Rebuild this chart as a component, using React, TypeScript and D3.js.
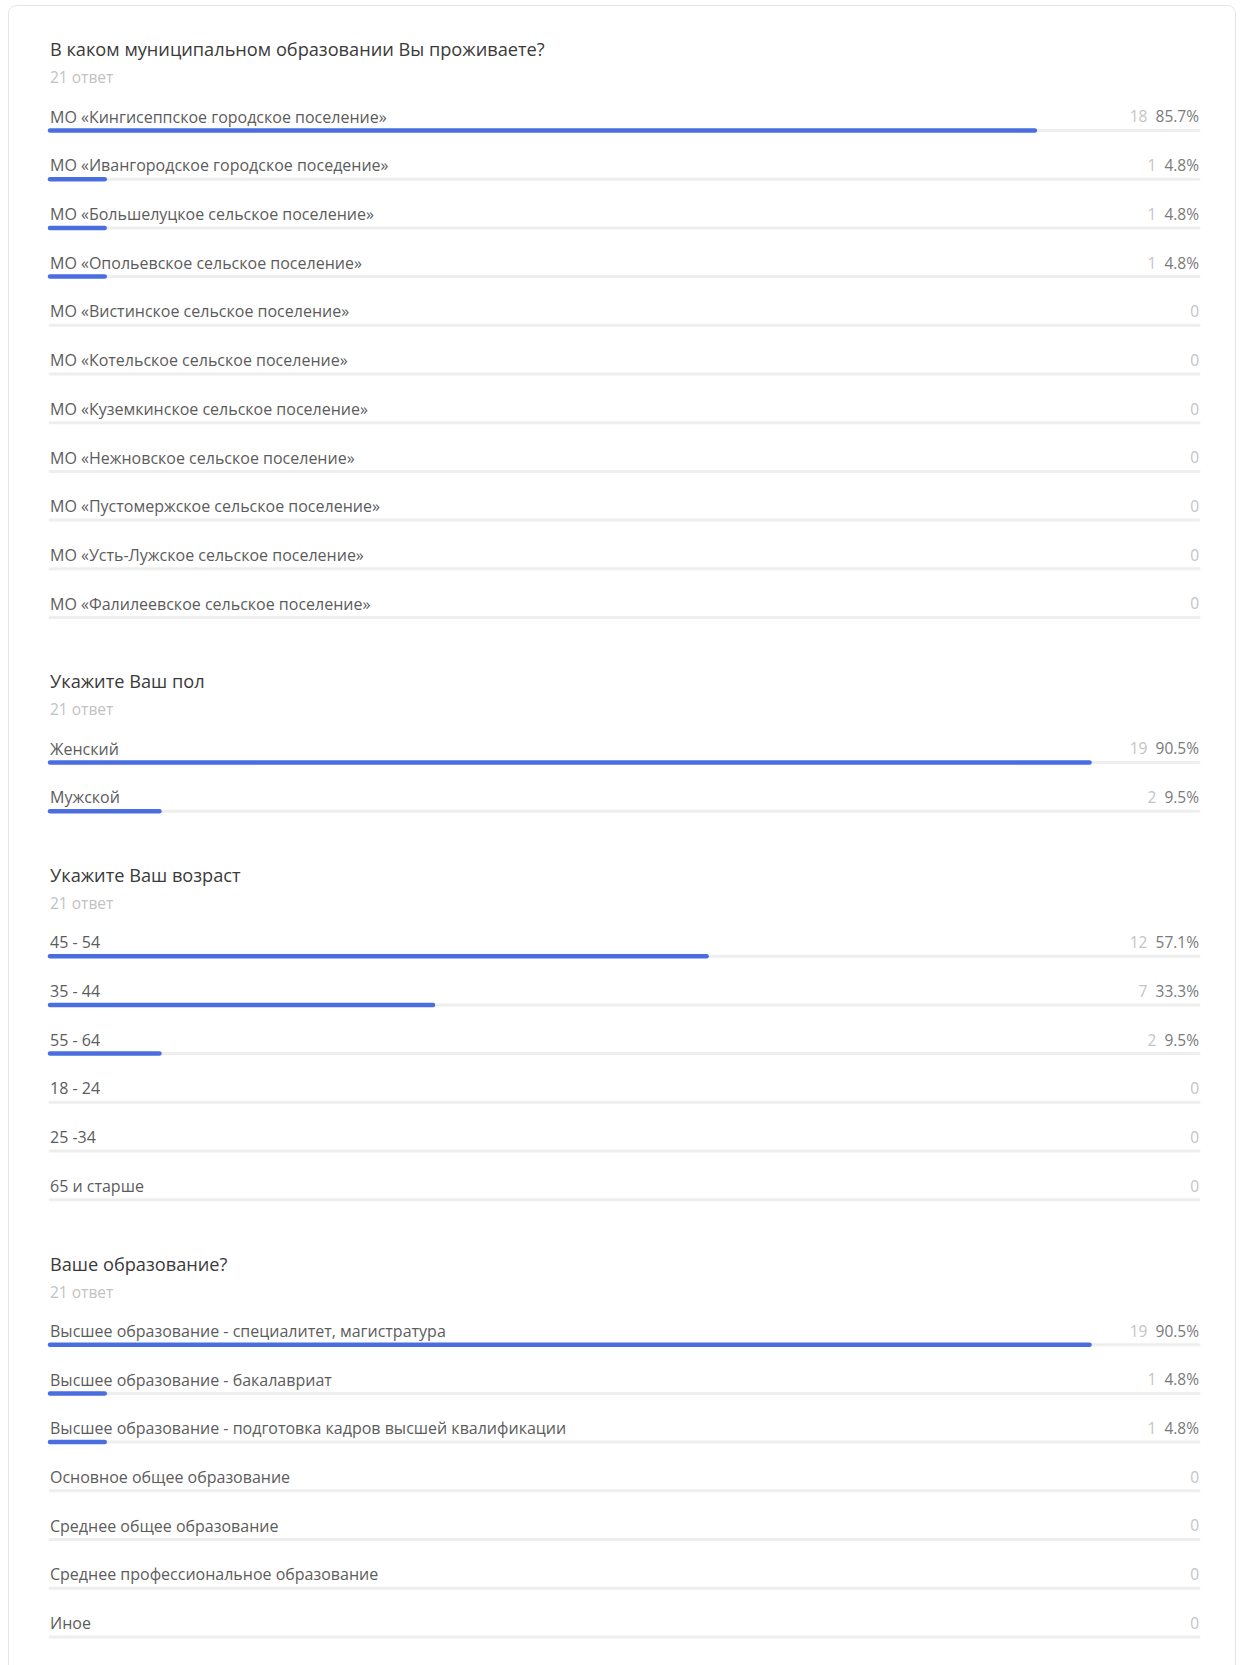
import React from "react";
import * as d3 from "d3";

const TOTAL = 21;

const sectionTitles = [
  "В каком муниципальном образовании Вы проживаете?",
  "Укажите Ваш пол",
  "Укажите Ваш возраст",
  "Ваше образование?",
];

const q1Labels = [
  "МО «Кингисеппское городское поселение»",
  "МО «Ивангородское городское поседение»",
  "МО «Большелуцкое сельское поселение»",
  "МО «Опольевское сельское поселение»",
  "МО «Вистинское сельское поселение»",
  "МО «Котельское сельское поселение»",
  "МО «Куземкинское сельское поселение»",
  "МО «Нежновское сельское поселение»",
  "МО «Пустомержское сельское поселение»",
  "МО «Усть-Лужское сельское поселение»",
  "МО «Фалилеевское сельское поселение»",
];
const q1Counts = [18, 1, 1, 1, 0, 0, 0, 0, 0, 0, 0];

const q2Labels = ["Женский", "Мужской"];
const q2Counts = [19, 2];

const q3Labels = ["45 - 54", "35 - 44", "55 - 64", "18 - 24", "25 -34", "65 и старше"];
const q3Counts = [12, 7, 2, 0, 0, 0];

const q4Labels = [
  "Высшее образование - специалитет, магистратура",
  "Высшее образование - бакалавриат",
  "Высшее образование - подготовка кадров высшей квалификации",
  "Основное общее образование",
  "Среднее общее образование",
  "Среднее профессиональное образование",
  "Иное",
];
const q4Counts = [19, 1, 1, 0, 0, 0, 0];

const sections = [
  { title: sectionTitles[0], labels: q1Labels, counts: q1Counts },
  { title: sectionTitles[1], labels: q2Labels, counts: q2Counts },
  { title: sectionTitles[2], labels: q3Labels, counts: q3Counts },
  { title: sectionTitles[3], labels: q4Labels, counts: q4Counts },
];

const W = 1243;
const H = 1665;
const LEFT = 50;
const RIGHT = 1199;
const ROW = 48.7;
const FONT = "'Open Sans', 'Noto Sans', sans-serif";

export default function App() {
  const x = d3.scaleLinear().domain([0, 1]).range([LEFT, RIGHT]);
  const fmt = d3.format(".1f");

  let cursor = 50;
  const blocks = sections.map((s, si) => {
    const top = cursor;
    const rowY = d3
      .scaleLinear()
      .domain([0, 1])
      .range([top + 67, top + 67 + ROW]);
    const lastRow = rowY(s.labels.length - 1);
    cursor = lastRow + 78;
    return (
      <g key={si}>
        <text x={LEFT} y={top} dy="0.35em" fontSize={18.2} fill="#3a3a3a" fontFamily={FONT}>
          {s.title}
        </text>
        <text x={LEFT} y={top + 28} dy="0.35em" fontSize={15.5} fill="#c2c2c2" fontFamily={FONT}>
          {TOTAL} ответ
        </text>
        {s.labels.map((lab, i) => {
          const y = rowY(i);
          const c = s.counts[i];
          const frac = c / TOTAL;
          return (
            <g key={i}>
              <text x={LEFT} y={y} dy="0.35em" fontSize={16} fill="#5c5c5c" fontFamily={FONT}>
                {lab}
              </text>
              <line x1={x(0)} x2={x(1)} y1={y + 13.5} y2={y + 13.5} stroke="#eeeeee" strokeWidth={3} strokeLinecap="round" />
              {c > 0 && (
                <line x1={x(0)} x2={x(frac)} y1={y + 13.5} y2={y + 13.5} stroke="#4a6ee0" strokeWidth={4.5} strokeLinecap="round" />
              )}
              <text x={RIGHT} y={y} dy="0.35em" fontSize={15.5} textAnchor="end" fontFamily={FONT}>
                {c > 0 ? (
                  <>
                    <tspan fill="#c4c4c4">{c}</tspan>
                    <tspan fill="#7a7a7a">{"\u00a0\u00a0" + fmt(frac * 100) + "%"}</tspan>
                  </>
                ) : (
                  <tspan fill="#c4c4c4">0</tspan>
                )}
              </text>
            </g>
          );
        })}
      </g>
    );
  });

  return (
    <svg
      width={W}
      height={H}
      style={{ position: "absolute", left: 0, top: 0, background: "#fff" }}
    >
      <rect x={8.5} y={5.5} width={1227} height={1720} rx={8} fill="#fff" stroke="#e4e4e4" />
      {blocks}
    </svg>
  );
}
